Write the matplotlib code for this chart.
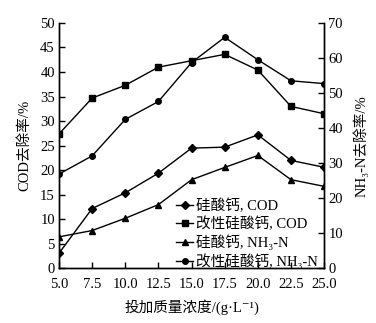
import matplotlib
matplotlib.use("Agg")
import matplotlib.pyplot as plt

plt.rcParams['font.family'] = ['Liberation Serif', 'DejaVu Serif', 'Noto Sans CJK SC']
plt.rcParams['font.size'] = 10.5

# dosage, g/L
dose = [5.0, 7.5, 10.0, 12.5, 15.0, 17.5, 20.0, 22.5, 25.0]
xtick_labels = ['5.0', '7.5', '10.0', '12.5', '15.0', '17.5', '20.0', '22.5', '25.0']

# COD removal (left axis), %
cod_ca = [3.1, 12.2, 15.4, 19.4, 24.5, 24.7, 27.2, 22.0, 20.6]
cod_mod = [27.4, 34.7, 37.3, 41.0, 42.3, 43.6, 40.4, 33.0, 31.5]
# NH3-N removal (right axis), %
nh_ca = [9.0, 10.8, 14.3, 18.2, 25.3, 28.8, 32.2, 25.3, 23.4]
nh_mod = [26.9, 32.1, 42.5, 47.6, 58.7, 65.9, 59.5, 53.5, 52.7]

fig = plt.figure(figsize=(3.76, 3.23), dpi=100)
ax = fig.add_axes([0.157, 0.169, 0.705, 0.76])
ax2 = ax.twinx()

kw = dict(color='black', lw=1.0)
l1, = ax.plot(dose, cod_ca, marker='D', ms=4, **kw)
l2, = ax.plot(dose, cod_mod, marker='s', ms=4.5, **kw)
l3, = ax2.plot(dose, nh_ca, marker='^', ms=4.5, **kw)
l4, = ax2.plot(dose, nh_mod, marker='o', ms=4, **kw)

ax.set_xlim(5, 25)
ax.set_ylim(0, 50)
ax2.set_ylim(0, 70)
ax.set_xticks(dose)
ax.set_xticklabels(xtick_labels)
ax.set_yticks(range(0, 51, 5))
ax2.set_yticks(range(0, 71, 10))

for a in (ax, ax2):
    a.spines['top'].set_visible(False)
    a.tick_params(direction='in', length=4, width=1, pad=3, labelsize=10.5)
    for s in a.spines.values():
        s.set_linewidth(1.0)
ax.tick_params(axis='x', pad=7)

ax.set_xlabel('投加质量浓度/(g·L⁻¹)', labelpad=6)
ax.set_ylabel('COD去除率/%', labelpad=6)
ax2.set_ylabel('NH₃-N去除率/%', labelpad=7)

ax.legend([l1, l2, l3, l4],
          ['硅酸钙, COD', '改性硅酸钙, COD', '硅酸钙, NH₃-N', '改性硅酸钙, NH₃-N'],
          loc='lower right', bbox_to_anchor=(1.0, -0.025), frameon=False,
          handlelength=1.2, handletextpad=0.2,
          labelspacing=0.22, borderaxespad=0.0, fontsize=10.5)

fig.savefig('out.png', dpi=100)
